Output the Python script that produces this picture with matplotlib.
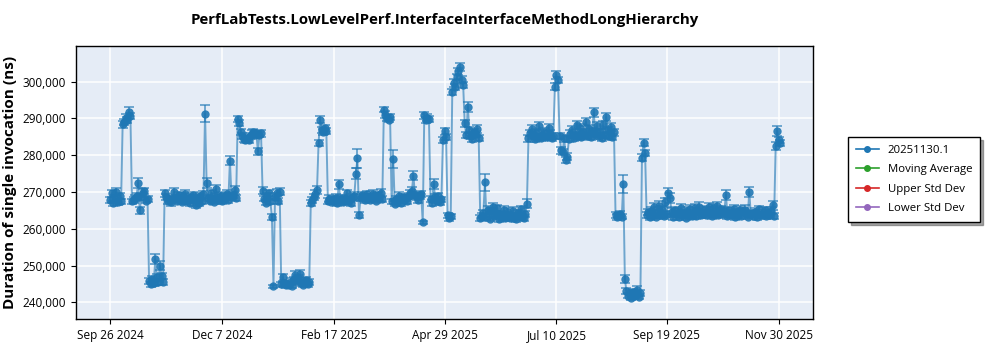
import matplotlib
matplotlib.use('Agg')
import matplotlib.pyplot as plt
import matplotlib.ticker as mticker
from matplotlib.lines import Line2D
import pandas as pd


title = 'PerfLabTests.LowLevelPerf.InterfaceInterfaceMethodLongHierarchy'
series_name = '20251130.1'
first_run = '2024-09-26'  # one run per day from here on

# mean duration of each daily run, in thousands of ns
duration_k = [
    267.8, 269.6, 266.9, 268.2, 270.1, 267.3, 268.9, 267.5,
    288.4, 289.1, 290.2, 289.5, 291.8, 290.6,
    267.4, 267.9, 268.3, 269.0, 272.4, 265.0, 268.6, 269.8, 270.3, 267.6, 268.1,
    245.8, 244.9, 246.3, 245.2, 251.7, 246.8, 245.5, 250.0, 247.1, 245.4,
    269.6, 268.7, 267.4, 268.1, 267.2, 267.9, 270.0, 268.4, 267.6, 269.2,
    268.0, 267.3, 268.8, 269.4, 267.5, 268.2, 267.0, 268.6, 269.1, 267.7,
    266.4, 268.3, 267.1, 268.9, 267.4, 269.3,
    291.3,
    272.5, 268.4, 267.6, 269.7, 268.1, 267.3, 270.8, 268.5, 267.8, 269.0,
    267.4, 268.2, 268.8, 269.5, 267.9, 278.5, 268.6, 269.2, 270.4, 268.3,
    289.9, 288.7, 286.4, 285.2, 284.3, 284.0, 284.6, 284.2,
    285.1, 285.8, 286.2, 285.4, 285.9, 281.0, 285.6, 285.9,
    270.3, 268.2, 267.1, 268.9, 269.6, 267.4, 263.2,
    244.4,
    268.7, 269.8, 267.5, 270.1,
    244.9, 246.8, 245.3, 244.6, 245.1, 244.8, 245.6, 244.5, 246.2, 247.4,
    245.9, 246.6, 247.6, 245.2, 244.8, 245.7, 246.1, 244.9, 245.4,
    266.9, 267.8, 268.6, 269.4, 270.6,
    283.2, 289.6, 286.8, 286.2, 287.3, 286.5,
    267.6, 268.2, 267.3, 268.0, 267.5, 268.4, 267.1, 272.1, 267.8, 268.3,
    267.2, 267.9, 269.6, 267.4, 268.1, 267.0, 268.5, 268.9, 275.0, 279.1,
    263.7, 268.4, 269.1, 268.6, 267.8, 269.3, 268.7, 267.9, 268.4, 269.5,
    268.8, 267.6, 269.2, 268.3, 269.7, 268.1,
    292.4, 291.0, 290.1, 289.6, 290.3,
    267.4, 279.0, 266.8, 268.2, 267.6, 269.0, 267.1, 268.6, 267.9, 268.3,
    267.5, 268.8, 269.6, 270.3, 274.4, 269.2, 268.5, 267.7, 268.9, 269.4,
    261.8,
    290.8, 289.6, 290.2, 289.8,
    268.1, 267.0, 272.2, 268.5, 267.6, 268.9, 267.3, 268.0,
    284.2, 286.5, 285.0,
    263.6, 262.9, 263.4,
    297.2, 299.6, 298.4, 301.2, 302.8, 303.9, 300.5, 299.1,
    288.6, 285.4, 293.1, 286.8, 285.2, 284.4, 286.3, 285.7, 287.1, 284.6,
    262.8, 263.5, 264.2, 272.6, 263.1, 265.1, 262.7, 264.8, 266.0, 263.4,
    263.9, 265.5, 262.6, 264.1, 263.3, 265.2, 262.9, 263.8, 264.6, 262.8,
    263.5, 264.9, 263.0, 262.7, 264.3, 263.6, 265.3, 263.1, 262.9, 264.0, 266.8,
    284.6, 285.9, 287.2, 285.3, 284.4, 286.1, 285.0, 287.8, 284.7, 285.6,
    286.4, 284.9, 285.3, 287.5, 285.8, 284.6, 285.2,
    298.6, 301.8, 300.4,
    285.1, 281.3, 280.8, 284.6, 278.7, 279.6,
    284.3, 285.8, 286.9, 284.7, 285.5, 288.2, 285.1, 287.4, 284.9, 286.2,
    285.6, 289.0, 285.3, 287.1, 284.8, 286.5, 291.6, 285.7, 287.9, 285.2,
    286.3, 284.6, 288.1, 285.4, 290.4, 286.8, 285.1, 287.6, 284.9, 286.2,
    263.8, 263.2, 263.6, 264.0, 263.3,
    272.2,
    246.3, 243.1, 241.8, 242.5, 241.2, 242.9, 241.6, 242.2, 243.4, 241.5, 242.6,
    279.3, 283.4, 280.6,
    263.8, 264.5, 263.1, 264.9, 263.6, 265.8, 263.3, 264.2, 266.3, 263.7,
    265.1, 263.4, 267.2, 264.0, 269.7, 268.4, 264.6, 263.2, 265.0, 263.9,
    264.4, 263.1, 265.7, 263.6, 264.2, 263.0, 264.8, 263.7, 265.3, 263.4,
    264.1, 265.6, 263.5, 264.7, 266.0, 263.8, 264.3, 265.2, 263.6, 264.9,
    265.8, 264.2, 263.4, 265.5, 264.0, 266.1, 263.7, 264.6, 265.3, 263.9,
    264.8, 269.2, 263.5, 265.0, 264.1, 263.6, 265.4, 263.2, 264.5, 263.8,
    265.1, 263.4, 264.7, 265.2, 264.0, 263.3, 270.0, 263.9, 264.3, 263.5,
    264.6, 263.2, 265.3, 263.8, 264.1, 263.6, 265.0, 263.4, 264.4, 263.7,
    264.9, 266.4, 263.5,
    282.5, 286.6, 284.1, 283.4,
]

# standard error of each run, in thousands of ns
error_k = [
    0.8, 1.0, 0.7, 0.9, 1.1, 0.8, 0.9, 0.7,
    0.9, 0.8, 1.0, 0.9, 1.2, 0.8,
    0.7, 0.8, 0.9, 0.8, 1.3, 1.0, 0.9, 1.1, 0.8, 0.7, 0.9,
    0.8, 0.7, 0.9, 0.8, 1.4, 0.9, 0.8, 1.2, 0.9, 0.8,
    0.9, 0.8, 0.7, 0.8, 0.9, 0.7, 1.0, 0.8, 0.7, 0.9,
    0.8, 0.7, 0.9, 1.0, 0.8, 0.7, 0.8, 0.9, 1.0, 0.8,
    0.7, 0.9, 0.8, 0.9, 0.7, 1.0,
    2.3,
    1.4, 0.8, 0.7, 0.9, 0.8, 0.7, 1.0, 0.8, 0.7, 0.9,
    0.8, 0.7, 0.9, 1.0, 0.8, 1.2, 0.9, 0.8, 1.1, 0.8,
    0.8, 0.9, 0.8, 0.7, 0.8, 0.7, 0.9, 0.8,
    0.8, 0.9, 1.0, 0.8, 0.7, 0.9, 0.8, 0.9,
    1.0, 0.8, 0.7, 0.9, 1.0, 0.8, 0.7,
    0.4,
    0.9, 1.0, 0.8, 1.0,
    0.7, 0.9, 0.8, 0.7, 0.8, 0.7, 0.9, 0.7, 0.8, 1.0,
    0.8, 0.9, 1.1, 0.8, 0.7, 0.9, 0.8, 0.7, 0.8,
    0.8, 0.9, 0.8, 1.0, 1.1,
    0.8, 1.0, 0.9, 0.8, 0.9, 0.8,
    0.8, 0.9, 0.7, 0.8, 0.7, 0.9, 0.8, 1.2, 0.7, 0.8,
    0.7, 0.8, 1.0, 0.7, 0.8, 0.7, 0.9, 1.0, 1.5, 2.6,
    0.8, 0.9, 1.0, 0.8, 0.7, 0.9, 0.8, 0.7, 0.9, 1.0,
    0.8, 0.7, 0.9, 0.8, 1.0, 0.8,
    0.8, 0.9, 0.8, 0.7, 0.8,
    0.8, 2.5, 0.7, 0.8, 0.7, 0.9, 0.8, 0.9, 0.7, 0.8,
    0.7, 0.8, 0.9, 1.0, 1.2, 0.9, 0.8, 0.7, 0.9, 0.8,
    0.4,
    0.9, 0.8, 0.9, 0.8,
    0.8, 0.7, 1.3, 0.8, 0.7, 0.9, 0.8, 0.7,
    0.8, 0.9, 0.8,
    0.7, 0.8, 0.7,
    0.9, 1.0, 0.8, 0.9, 1.0, 1.1, 0.9, 0.8,
    0.9, 0.8, 1.4, 0.9, 0.8, 0.7, 0.9, 0.8, 1.0, 0.8,
    0.8, 0.7, 0.9, 2.4, 0.8, 1.0, 0.7, 0.9, 1.1, 0.8,
    0.9, 1.0, 0.7, 0.8, 0.9, 1.0, 0.7, 0.8, 0.9, 0.7,
    0.8, 0.9, 0.7, 0.8, 0.9, 0.8, 1.0, 0.8, 0.7, 0.9, 1.2,
    0.9, 0.8, 1.0, 0.8, 0.7, 0.9, 0.8, 1.1, 0.8, 0.9,
    1.0, 0.8, 0.7, 1.0, 0.9, 0.8, 0.9,
    0.9, 1.0, 0.8,
    0.8, 0.9, 0.8, 0.9, 0.8, 0.9,
    0.8, 0.9, 1.0, 0.8, 0.9, 1.1, 0.8, 1.0, 0.8, 0.9,
    0.9, 1.2, 0.8, 1.0, 0.7, 0.9, 1.2, 0.8, 1.0, 0.8,
    0.9, 0.7, 1.1, 0.8, 1.0, 0.9, 0.8, 1.0, 0.8, 0.9,
    0.8, 0.7, 0.8, 0.9, 0.7,
    2.4,
    1.0, 0.8, 0.7, 0.8, 0.7, 0.8, 0.7, 0.8, 0.9, 0.7, 0.8,
    1.0, 0.9, 0.8,
    0.8, 0.9, 0.7, 1.0, 0.8, 1.1, 0.7, 0.9, 1.2, 0.8,
    1.0, 0.7, 1.2, 0.8, 1.3, 1.3, 0.9, 0.7, 1.0, 0.8,
    0.9, 0.7, 1.1, 0.8, 0.9, 0.7, 1.0, 0.8, 1.1, 0.7,
    0.9, 1.1, 0.8, 1.0, 1.2, 0.8, 0.9, 1.0, 0.8, 1.0,
    1.1, 0.9, 0.7, 1.1, 0.8, 1.2, 0.8, 0.9, 1.0, 0.8,
    0.9, 1.3, 0.8, 1.0, 0.9, 0.7, 1.0, 0.7, 0.9, 0.8,
    1.0, 0.7, 0.9, 1.2, 0.8, 0.7, 1.3, 0.8, 0.9, 0.7,
    0.9, 0.7, 1.0, 0.8, 0.9, 0.7, 1.0, 0.7, 0.9, 0.8,
    1.0, 1.2, 0.8,
    1.0, 1.3, 0.9, 0.8,
]

tick_dates = ['2024-09-26', '2024-12-07', '2025-02-17', '2025-04-29',
              '2025-07-10', '2025-09-19', '2025-11-30']
tick_labels = ['Sep 26 2024', 'Dec 7 2024', 'Feb 17 2025', 'Apr 29 2025',
               'Jul 10 2025', 'Sep 19 2025', 'Nov 30 2025']
y_ticks = [240000, 250000, 260000, 270000, 280000, 290000, 300000]

# legend entries: the runs first, then the (empty) statistics series
legend_names = [series_name, 'Moving Average', 'Upper Std Dev', 'Lower Std Dev']
legend_colors = ['#1f77b4', '#2ca02c', '#d62728', '#9467bd']

plt.rcParams['font.family'] = ['Open Sans', 'DejaVu Sans']

dates = pd.date_range(first_run, periods=len(duration_k), freq='D')
durations = [v * 1000 for v in duration_k]
errors = [e * 1000 for e in error_k]

fig = plt.figure(figsize=(10, 3.5), dpi=100)
ax = fig.add_axes([0.076, 0.089, 0.737, 0.78])
ax.set_facecolor('#e5ecf6')

blue = '#1f77b4'
ax.errorbar(dates, durations, yerr=errors, fmt='none', ecolor=blue,
            elinewidth=1.3, capsize=3.5, capthick=1.3, alpha=0.65, zorder=2)
ax.plot(dates, durations, '-', color=blue, lw=1.4, alpha=0.6, zorder=3)
ax.plot(dates, durations, 'o', color=blue, ms=6, mew=0, alpha=0.9, zorder=4)

ax.set_xlim(pd.Timestamp('2024-09-04'), pd.Timestamp('2025-12-22'))
ax.set_ylim(235500, 309700)
ax.set_xticks(pd.to_datetime(tick_dates))
ax.set_xticklabels(tick_labels, fontsize=8.5)
ax.set_yticks(y_ticks)
ax.yaxis.set_major_formatter(mticker.StrMethodFormatter('{x:,.0f}'))
ax.tick_params(axis='y', labelsize=8.5)
ax.grid(True, color='white', lw=1.1)
ax.set_axisbelow(True)
for s in ax.spines.values():
    s.set_color('black')
    s.set_linewidth(1.0)

ax.set_title(title, fontsize=10.8, fontweight='bold', pad=16)
ax.set_ylabel('Duration of single invocation (ns)', fontsize=11,
              fontweight='bold')

handles = [Line2D([], [], color=c, marker='o', ms=4, lw=1.2)
           for c in legend_colors]
leg = ax.legend(handles, legend_names, loc='upper left',
                bbox_to_anchor=(0.848, 0.609), bbox_transform=fig.transFigure,
                borderaxespad=0, fontsize=8.2, fancybox=False, shadow=True,
                edgecolor='black', framealpha=1, handlelength=2,
                borderpad=0.7, labelspacing=0.75)
leg.get_frame().set_linewidth(1.0)

fig.savefig('out.png', dpi=100)
